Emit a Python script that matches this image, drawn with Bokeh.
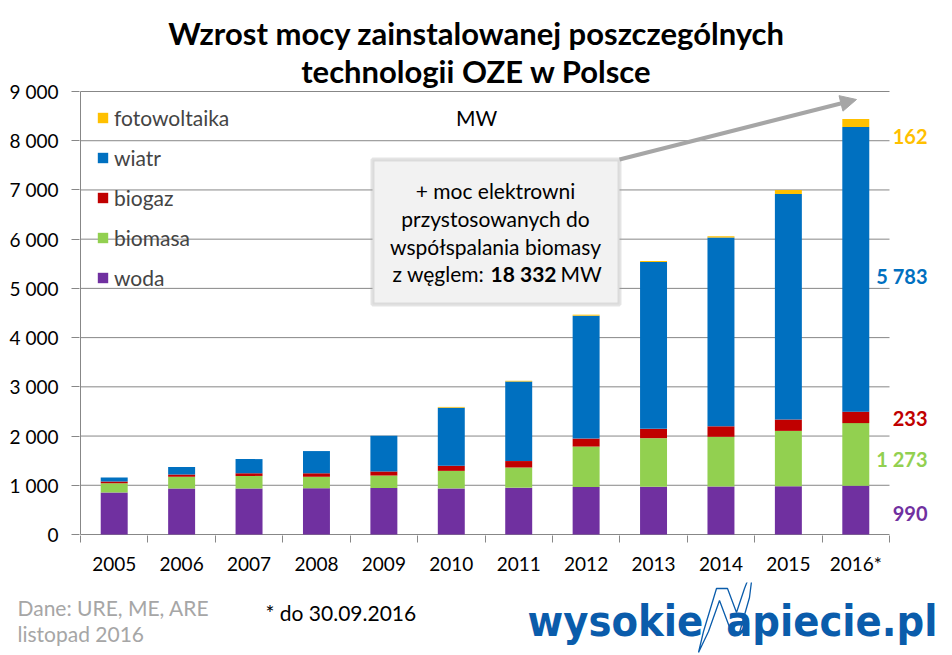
from bokeh.plotting import figure
from bokeh.layouts import column
from bokeh.models import (ColumnDataSource, FixedTicker, Legend, LegendItem, Label,
                          Arrow, NormalHead, BoxAnnotation, Range1d)
from bokeh.embed import file_html
from bokeh.resources import INLINE

# Installed renewable capacity in Poland, MW (2016 = state on 30.09.2016)
years = ["2005", "2006", "2007", "2008", "2009", "2010",
         "2011", "2012", "2013", "2014", "2015", "2016*"]
woda = [853, 935, 935, 941, 945, 937, 951, 966, 970, 977, 982, 990]
biomasa = [190, 239, 255, 232, 253, 356, 410, 821, 987, 1008, 1123, 1273]
biogaz = [32, 46, 54, 71, 83, 104, 131, 162, 189, 213, 231, 233]
wiatr = [83, 153, 288, 451, 725, 1180, 1616, 2497, 3390, 3834, 4582, 5783]
fotowoltaika = [0, 0, 0, 0, 0, 15, 15, 20, 20, 26, 80, 162]

series = ["woda", "biomasa", "biogaz", "wiatr", "fotowoltaika"]
colors = ["#7030A0", "#92D050", "#C00000", "#0070C0", "#FFC000"]
y_ticks = list(range(0, 9001, 1000))

FONT = "Lato"
GRAY = "#878787"
BLUE = "#0A5CAB"

# page geometry in pixels: the value axis runs 0..9000 between rows 534 and 91,
# the category axis spans columns 80..889
W, H_MAIN, H_FOOT = 952, 582, 73
X0, X1, Y0, Y9 = 80, 889, 534, 91
n = len(years)
YMAX = 9000
PX_PER_CAT = (X1 - X0) / n
PX_PER_MW = (Y0 - Y9) / YMAX


def px_x(px):
    return (px - X0) / PX_PER_CAT - 0.5


def px_y(py):
    return (Y0 - py) / PX_PER_MW


def no_frame_align(fig):
    if "frame_align" in fig.properties():
        fig.frame_align = False


src = ColumnDataSource(dict(x=list(range(n)), woda=woda, biomasa=biomasa,
                            biogaz=biogaz, wiatr=wiatr, fotowoltaika=fotowoltaika))

# frame reaches the top and right edges so titles and side labels can live in it
p = figure(width=W, height=H_MAIN,
           x_range=Range1d(px_x(X0 - 1), px_x(W)),
           y_range=Range1d(px_y(Y0 + 1), px_y(0)),
           output_backend="svg", toolbar_location=None,
           min_border_left=X0 - 1, min_border_right=0,
           min_border_top=0, min_border_bottom=H_MAIN - (Y0 + 1))
no_frame_align(p)
p.title.visible = False
p.outline_line_color = None
p.background_fill_color = "white"
p.border_fill_color = "white"
p.xgrid.visible = False
p.ygrid.visible = False

# gridlines and axis lines limited to the category span
p.segment(x0=-0.5, x1=n - 0.5, y0=y_ticks, y1=y_ticks, line_color=GRAY, line_width=1)
p.segment(x0=[-0.5], x1=[-0.5], y0=[0], y1=[YMAX], line_color=GRAY, line_width=1)

bars = p.vbar_stack(series, x="x", width=0.4, source=src,
                    fill_color=colors, line_color=None)

# axes
p.xaxis.ticker = FixedTicker(ticks=list(range(n)),
                             minor_ticks=[i - 0.5 for i in range(n + 1)])
p.xaxis.major_label_overrides = {i: y for i, y in enumerate(years)}
p.xaxis.major_tick_out = 0
p.xaxis.major_tick_in = 0
p.xaxis.minor_tick_out = 7
p.xaxis.minor_tick_in = 0
p.xaxis.minor_tick_line_color = GRAY
p.xaxis.axis_line_color = None
p.xaxis.major_label_standoff = 9

p.yaxis.ticker = FixedTicker(ticks=y_ticks)
p.yaxis.major_label_overrides = {v: f"{v:,}".replace(",", " ") for v in y_ticks}
p.yaxis.major_tick_out = 8
p.yaxis.major_tick_in = 0
p.yaxis.major_tick_line_color = GRAY
p.yaxis.minor_tick_line_color = None
p.yaxis.axis_line_color = None
p.yaxis.major_label_standoff = 13

for ax in (p.xaxis, p.yaxis):
    ax.major_label_text_font = FONT
    ax.major_label_text_font_size = "19px"
    ax.major_label_text_color = "black"

# legend, top item first
items = [LegendItem(label=s, renderers=[r]) for s, r in zip(series, bars)][::-1]
legend = Legend(items=items, location=(17, 245), margin=0, padding=0,
                spacing=15, glyph_width=13, glyph_height=13, label_standoff=5,
                label_text_font=FONT, label_text_font_size="21px",
                border_line_color=None, background_fill_alpha=0)
p.add_layout(legend)


def label(fig, text, x, y, size="21px", color="black", align="center",
          style="normal", font=FONT):
    fig.add_layout(Label(x=x, y=y, text=text, text_align=align,
                         text_baseline="middle", text_font=font,
                         text_font_size=size, text_color=color,
                         text_font_style=style))


def plabel(text, x, y, **kw):
    label(p, text, px_x(x), px_y(y), **kw)


# title
plabel("Wzrost mocy zainstalowanej poszczególnych", 476, 32, size="31px", style="bold")
plabel("technologii OZE w Polsce", 476, 70, size="31px", style="bold")
plabel("MW", 476, 117)

# call-out about co-firing
p.add_layout(BoxAnnotation(left=px_x(372), right=px_x(619), top=px_y(159),
                           bottom=px_y(304), fill_color="#F2F2F2", fill_alpha=1,
                           line_color="#A6A6A6", line_width=4))
plabel("+ moc elektrowni", 495, 190)
plabel("przystosowanych do", 495, 218)
plabel("współspalania biomasy", 495, 246)
plabel("z węglem:", 392, 273, align="left")
plabel("18 332", 490, 273, align="left", style="bold")
plabel("MW", 560, 273, align="left")
p.add_layout(Arrow(end=NormalHead(size=16, fill_color="#A6A6A6", line_color="#A6A6A6"),
                   x_start=px_x(619), y_start=px_y(159),
                   x_end=px_x(856), y_end=px_y(99),
                   line_color="#A6A6A6", line_width=4))

# 2016 values next to the last bar
for txt, y, c in [("162", 136, colors[4]), ("5 783", 275, colors[3]),
                  ("233", 418, colors[2]), ("1 273", 458, colors[1]),
                  ("990", 513, colors[0])]:
    plabel(txt, 927, y, color=c, align="right", style="bold", size="20px")

# footer strip, drawn in page pixels
f = figure(width=W, height=H_FOOT, x_range=Range1d(0, W),
           y_range=Range1d(H_MAIN + H_FOOT, H_MAIN),
           output_backend="svg", toolbar_location=None,
           x_axis_type=None, y_axis_type=None,
           min_border_left=0, min_border_right=0, min_border_top=0, min_border_bottom=0)
no_frame_align(f)
f.title.visible = False
f.outline_line_color = None
f.xgrid.visible = False
f.ygrid.visible = False
f.background_fill_color = "white"
f.border_fill_color = "white"

label(f, "Dane: URE, ME, ARE", 17, 607, size="21px", color="#A6A6A6", align="left")
label(f, "listopad 2016", 17, 633, size="21px", color="#A6A6A6", align="left")
label(f, "* do 30.09.2016", 265, 612, size="21px", align="left")

# site logo: word mark with a lightning-shaped "N"
label(f, "wysokie", 527, 620, size="43px", color=BLUE, align="left", style="bold",
      font="DejaVu Sans Condensed")
label(f, "apiecie.pl", 937, 620, size="43px", color=BLUE, align="right", style="bold",
      font="DejaVu Sans Condensed")
bolt_x = [698, 708, 719, 731, 739, 749, 753, 744, 736, 727, 716, 703]
bolt_y = [652, 631, 600, 632, 632, 597, 565, 588, 612, 588, 588, 631]
f.patch(bolt_x, bolt_y, fill_color="white", line_color=BLUE, line_width=1.3)

open("out.html", "w").write(file_html(column(p, f, spacing=0), INLINE))
